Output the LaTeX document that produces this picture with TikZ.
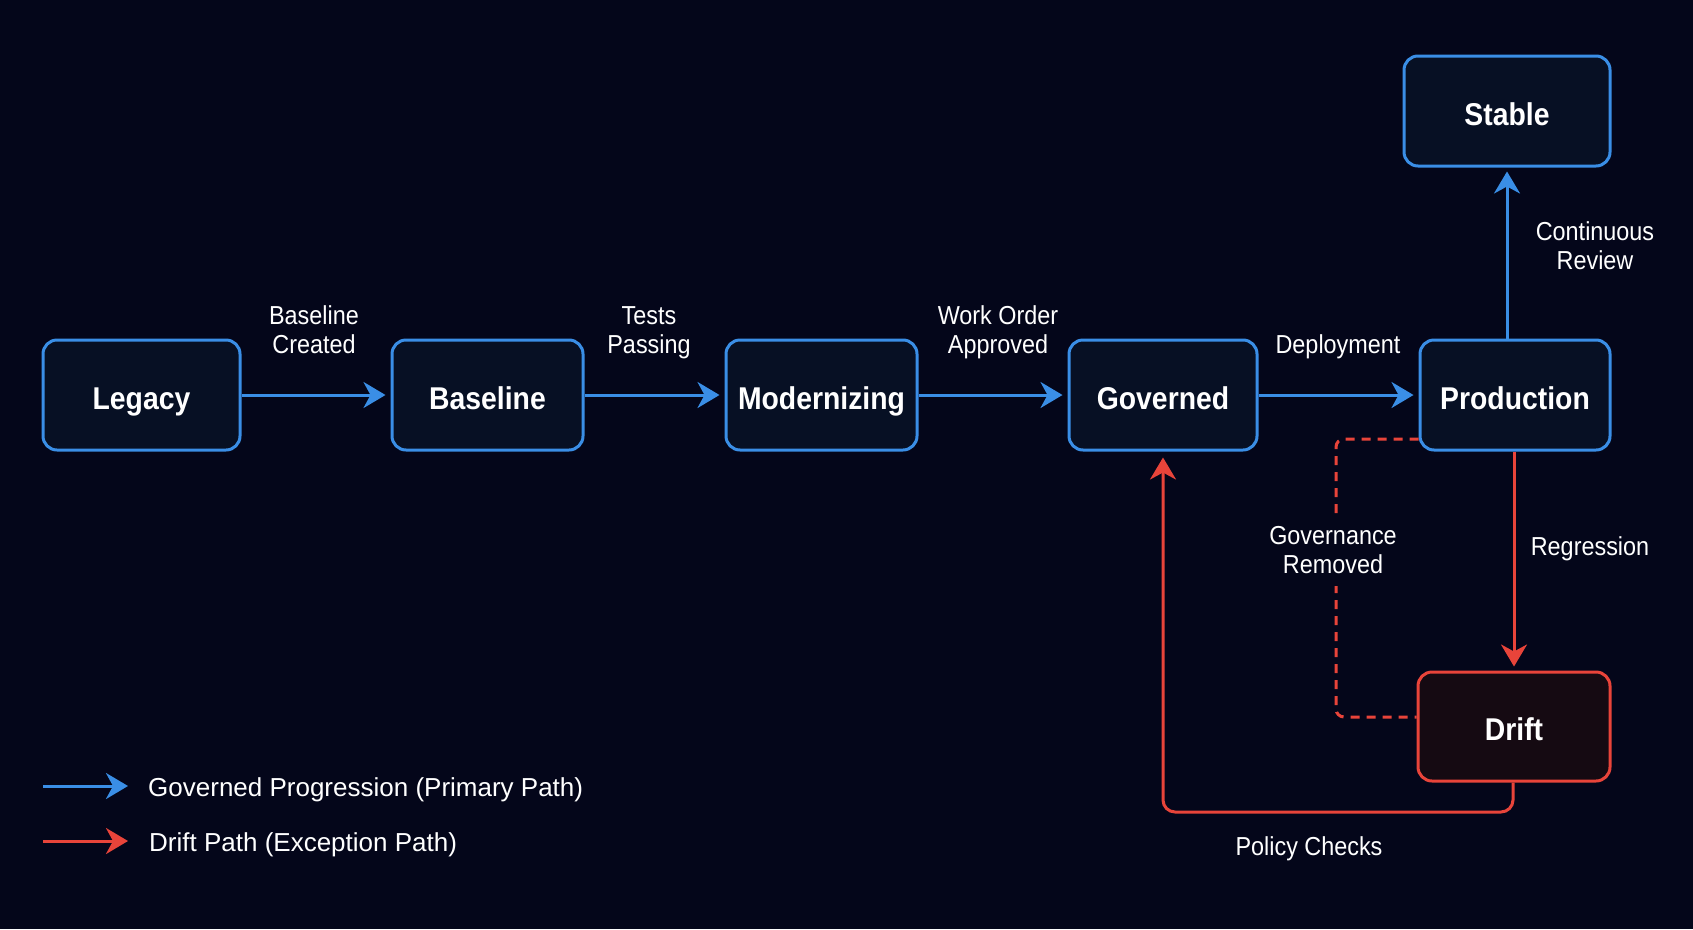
\documentclass[tikz,border=0pt]{standalone}
\usepackage{fontspec}
\setmainfont{Liberation Sans}
\newfontfamily\boxfont[FakeStretch=0.9]{Liberation Sans}
\usetikzlibrary{arrows.meta}
\definecolor{bg}{HTML}{04061A}
\definecolor{cblue}{HTML}{3A8EE6}
\definecolor{cred}{HTML}{E8443A}
\definecolor{cfill}{HTML}{071024}
\definecolor{dfill}{HTML}{150A12}
\tikzset{
  state/.style={draw=cblue, fill=cfill, line width=3pt, rounded corners=14pt,
    minimum height=110pt, text=white, inner sep=0pt,
    text height=28pt, text depth=0pt,
    font=\boxfont\bfseries\fontsize{31.5}{36}\selectfont},
  lbl/.style={text=white, align=center, inner sep=2pt,
    font=\boxfont\fontsize{26}{29}\selectfont},
  lblone/.style={lbl, text height=19pt, text depth=7pt},
  lbltwo/.style={lbl, text height=48pt, text depth=7pt},
  legtext/.style={text=white, anchor=west, inner sep=0pt,
    font=\fontsize{26}{30}\selectfont},
  tip/.style={-{Stealth[length=22pt,width=26pt,inset=7pt]}},
  flow/.style={draw=cblue, line width=3pt, tip},
  drift/.style={draw=cred, line width=3pt, tip},
}
\begin{document}
\begin{tikzpicture}[x=1pt,y=-1pt]
\fill[bg] (0,0) rectangle (1693,929);
\useasboundingbox (0,0) rectangle (1693,929);

\node[state, minimum width=197pt] (legacy) at (141.5,395) {Legacy};
\node[state, minimum width=191pt] (baseline) at (487.5,395) {Baseline};
\node[state, minimum width=191pt] (modern) at (821.5,395) {Modernizing};
\node[state, minimum width=188pt] (governed) at (1163,395) {Governed};
\node[state, minimum width=190pt] (prod) at (1515,395) {Production};
\node[state, minimum width=206pt] (stable) at (1507,111) {Stable};
\node[state, draw=cred, fill=dfill, minimum width=192pt, minimum height=109pt] (driftn) at (1514,726.5) {Drift};

\draw[flow, shorten >=5pt] (legacy.east) -- (baseline.west);
\draw[flow, shorten >=5pt] (baseline.east) -- (modern.west);
\draw[flow, shorten >=5pt] (modern.east) -- (governed.west);
\draw[flow, shorten >=5pt] (governed.east) -- (prod.west);
\draw[flow, shorten >=4pt] (stable.south |- prod.north) -- (stable.south);
\draw[drift, shorten >=4pt] (prod.south -| driftn.north) -- (driftn.north);

\coordinate (d1) at (1336,439);
\coordinate (d2) at (1336,717);
\draw[cred, line width=3pt, dash pattern=on 9pt off 7pt, rounded corners=8pt]
  (prod.west |- d1) -- (d1) -- (d2) -- (driftn.west |- d2);

\coordinate (p1) at (1513,812);
\coordinate (p2) at (1163,812);
\draw[drift, rounded corners=12pt, shorten >=6pt]
  (p1 |- driftn.south) -- (p1) -- (p2) -- (governed.south);

\node[lbltwo] at (314,332.5) {Baseline\\Created};
\node[lbltwo] at (649,332.5) {Tests\\Passing};
\node[lbltwo] at (998,332.5) {Work Order\\Approved};
\node[lblone] at (1338,347) {Deployment};
\node[lbltwo] at (1595,248.5) {Continuous\\Review};
\node[lblone] at (1590,549) {Regression};
\node[lbltwo, fill=bg, inner sep=6pt] at (1333,552.5) {Governance\\Removed};
\node[lblone] at (1309,849) {Policy Checks};

\coordinate (b1) at (43,786);
\coordinate (b2) at (128,786);
\draw[flow] (b1) -- (b2);
\node[legtext] (lb) at (148,789.5) {Governed Progression (Primary Path)};
\coordinate (r1) at (43,841);
\coordinate (r2) at (128,841);
\draw[drift] (r1) -- (r2);
\node[legtext] (lr) at (149,844.5) {Drift Path (Exception Path)};
\end{tikzpicture}
\end{document}
